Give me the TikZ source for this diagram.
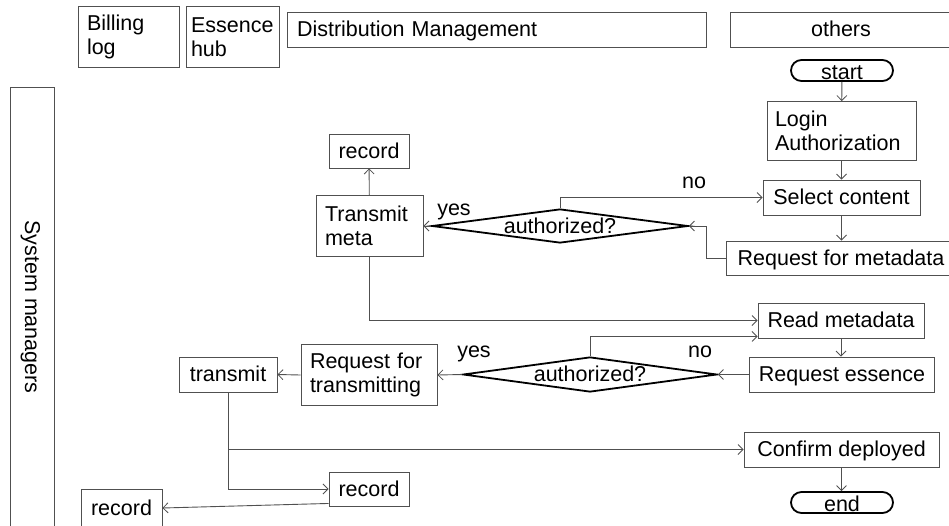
\documentclass[tikz,border=0pt]{standalone}
\usepackage{fontspec}
\setmainfont{Liberation Sans}
\usetikzlibrary{arrows.meta,shapes.geometric,shapes.misc,calc}
\definecolor{edgegray}{HTML}{505050}
\tikzset{
  every node/.style={font=\fontsize{21.5}{23.5}\selectfont},
  box/.style={draw=edgegray, line width=0.9pt, inner xsep=9pt, inner ysep=0pt, align=center,
              text height=16.5pt, text depth=2.5pt},
  lbox/.style={draw=edgegray, line width=0.9pt, inner xsep=9pt, inner ysep=0pt, align=left},
  terminal/.style={draw=black, line width=1.8pt, rounded rectangle, inner sep=0pt,
                   minimum width=102pt, minimum height=21pt, text height=18pt, text depth=1pt},
  decision/.style={draw=black, line width=1.8pt, diamond, inner sep=0pt},
  dlabel/.style={label={[inner sep=0pt, text height=16.5pt, text depth=2.5pt]center:#1}},
  flow/.style={draw=edgegray, line width=0.9pt,
               -{Straight Barb[length=5pt,width=10pt,line width=0.8pt]}},
  tag/.style={inner sep=0pt, text height=16.5pt, text depth=2.5pt}
}
\begin{document}
\begin{tikzpicture}[x=1pt,y=-1pt]
\useasboundingbox (0,0) rectangle (949,525);
\clip (0,0) rectangle (949,525);

% lane headers
\node[lbox, text width=83pt, minimum height=61pt] (bill) at (128.5,37) {Billing\\log};
\node[lbox, inner xsep=5pt, text width=83pt, minimum height=61pt] (ess) at (232.5,37) {Essence\\hub};
\node[box, inner xsep=10pt, text width=399pt, align=left, minimum height=35pt] (dist) at (496.5,29.5) {Distribution Management};
\node[box, minimum width=222pt, minimum height=35pt] (oth) at (841,29.5) {others};
\node[box, rotate=-90, minimum width=440pt, minimum height=44pt] (lane) at (32,307) {System managers};

% client side
\node[terminal] (start) at (842,70.5) {start};
\node[lbox, inner xsep=8pt, text width=133pt, minimum height=59pt] (login) at (841.5,131) {Login\\Authorization};
\node[box, minimum width=157pt, minimum height=35pt] (select) at (841.5,197.5) {Select content};
\node[box, minimum width=230pt, minimum height=34pt] (reqmeta) at (841,258) {Request for metadata};
\node[box, minimum width=166pt, minimum height=35pt] (read) at (841,320.5) {Read metadata};
\node[box, minimum width=180pt, minimum height=35pt] (reqess) at (842,374.5) {Request essence};
\node[box, minimum width=195pt, minimum height=35pt] (confirm) at (841.5,449.5) {Confirm deployed};
\node[terminal] (end) at (842,502.5) {end};

% decisions
\node[decision, minimum width=256pt, minimum height=34pt, dlabel={authorized?}] (dec1) at (560,226) {};
\node[decision, minimum width=254pt, minimum height=35pt, dlabel={authorized?}] (dec2) at (590,374.5) {};

% distribution side
\node[lbox, text width=89pt, minimum height=61pt] (tmeta) at (369.5,226) {Transmit\\meta};
\node[box, minimum width=80pt, minimum height=34pt] (rec1) at (369,151) {record};
\node[lbox, text width=118pt, minimum height=61pt] (reqtr) at (369,375) {Request for\\transmitting};
\node[box, minimum width=98pt, minimum height=35pt] (trans) at (228,374.5) {transmit};
\node[box, minimum width=80pt, minimum height=34pt] (rec2) at (369,489) {record};
\node[box, minimum width=81pt, minimum height=38pt] (rec3) at (121.5,508) {record};

% branch labels
\node[tag] (no1) at (694,181) {no};
\node[tag] (yes1) at (454,208) {yes};
\node[tag] (no2) at (700,350) {no};
\node[tag] (yes2) at (474,350) {yes};

% connectors
\coordinate (bend1) at ($(reqmeta.west)+(-19,0)$);
\coordinate (readin) at ($(read.south west)+(0,-2)$);
\coordinate (recout) at ($(rec2.south west)+(0,-3)$);

\draw[flow] (start) -- (login);
\draw[flow] (login) -- (select);
\draw[flow] (select.south) -- (select.south |- reqmeta.north);
\draw[flow] (reqmeta.west) -- (bend1) |- (dec1.east);
\draw[flow] (dec1.north) |- (select.west);
\draw[flow] (dec1.west) -- (tmeta.east);
\draw[flow] (tmeta) -- (rec1);
\draw[flow] (tmeta.south) |- (read.west);
\draw[flow] (read.south) -- (read.south |- reqess.north);
\draw[flow] (reqess.west) -- (dec2.east);
\draw[flow] (dec2.north) |- (readin);
\draw[flow] (dec2.west) -- (reqtr.east);
\draw[flow] (reqtr.west) -- (trans.east);
\draw[flow] (trans.south) |- (confirm.west);
\draw[flow] (trans.south) |- (rec2.west);
\draw[flow] (confirm.south) -- (confirm.south |- end.north);
\draw[flow] (recout) -- (rec3.east);
\end{tikzpicture}
\end{document}
